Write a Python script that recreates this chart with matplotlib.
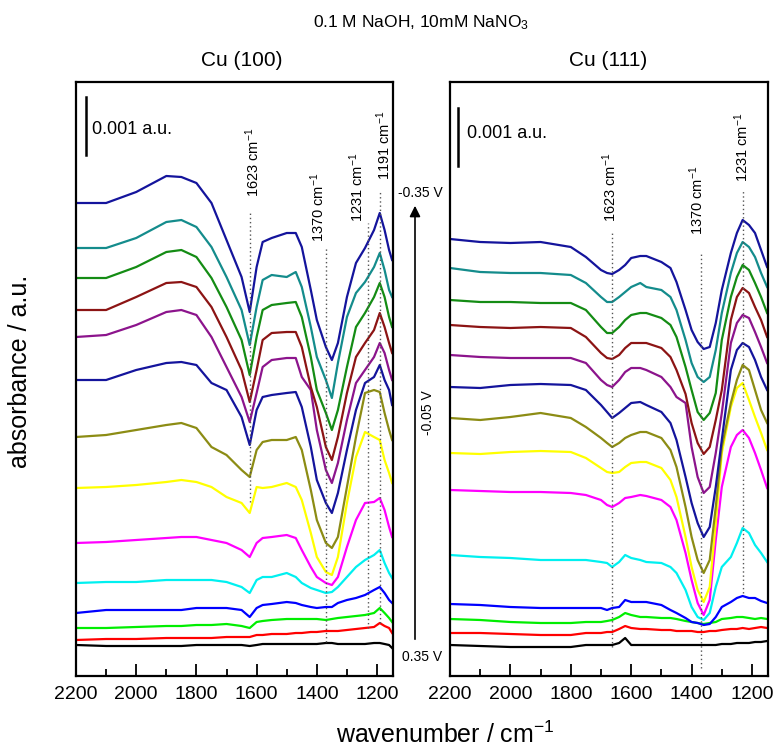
import numpy as np
import matplotlib
matplotlib.use("Agg")
import matplotlib.pyplot as plt
from matplotlib.patches import FancyArrowPatch

plt.rcParams['font.family'] = ['Liberation Sans', 'DejaVu Sans']
plt.rcParams['mathtext.default'] = 'regular'

# ---------------- data ----------------
# Stacked spectra, heights in units where the
# 0.001 a.u. scale bar = 58 units (curves already include their stacking offset)
AU_PER_UNIT = 0.001 / 58.0
SCALE_BAR = 58

colors = ['#000000', '#ff0000', '#00ee00', '#0000ff', '#00f0f0', '#ff00ff',
          '#ffff00', '#8c8c14', '#14149c', '#8c148c', '#8c1414', '#148c14',
          '#148c8c', '#14149c']  # bottom (0.35 V) -> top (-0.35 V)

# Cu(100)
wn_100 = [2200, 2100, 2000, 1900, 1850, 1800, 1750, 1700, 1650, 1623, 1600, 1580,
          1550, 1500, 1470, 1450, 1420, 1400, 1370, 1350, 1330, 1300, 1270, 1240,
          1210, 1191, 1175, 1160, 1150]
cu100_01 = [31, 30, 30, 30, 30, 31, 31, 31, 31, 30, 31, 32, 32, 32, 32, 32, 32, 32, 33, 33, 32, 32, 32, 32, 33, 33, 32, 31, 28]
cu100_02 = [36, 37, 37, 38, 38, 38, 38, 39, 39, 39, 41, 41, 42, 42, 43, 43, 44, 44, 45, 45, 45, 46, 47, 48, 49, 53, 50, 48, 43]
cu100_03 = [48, 48, 49, 50, 50, 51, 51, 52, 50, 48, 54, 55, 56, 57, 57, 57, 57, 57, 56, 57, 58, 59, 60, 61, 63, 68, 63, 58, 54]
cu100_04 = [63, 66, 66, 66, 66, 68, 68, 68, 66, 59, 68, 71, 72, 74, 73, 71, 69, 68, 69, 69, 73, 76, 78, 81, 86, 89, 83, 76, 73]
cu100_05 = [93, 94, 94, 96, 96, 96, 96, 94, 89, 83, 96, 99, 99, 103, 99, 93, 88, 86, 83, 84, 89, 99, 109, 116, 121, 126, 113, 103, 98]
cu100_06 = [133, 134, 136, 138, 139, 139, 136, 133, 126, 119, 133, 138, 139, 141, 138, 126, 109, 99, 93, 91, 99, 129, 156, 173, 174, 178, 166, 149, 139]
cu100_07 = [188, 189, 191, 194, 196, 194, 189, 179, 173, 163, 189, 188, 189, 193, 189, 176, 143, 119, 104, 101, 119, 173, 219, 244, 239, 236, 216, 203, 193]
cu100_08 = [239, 241, 246, 251, 253, 248, 229, 221, 206, 199, 226, 234, 236, 236, 239, 226, 186, 156, 133, 128, 139, 189, 239, 283, 286, 284, 263, 246, 236]
cu100_09 = [296, 296, 306, 313, 314, 311, 293, 286, 259, 231, 266, 279, 281, 283, 284, 269, 229, 196, 173, 163, 183, 226, 266, 293, 299, 311, 296, 286, 271]
cu100_10 = [339, 341, 351, 364, 366, 361, 339, 309, 279, 254, 283, 309, 316, 318, 318, 299, 286, 246, 206, 193, 213, 256, 293, 306, 319, 333, 323, 306, 296]
cu100_11 = [366, 366, 379, 393, 394, 389, 369, 339, 306, 274, 306, 336, 343, 344, 344, 329, 289, 269, 229, 216, 239, 283, 319, 333, 346, 363, 349, 333, 323]
cu100_12 = [398, 398, 409, 424, 426, 419, 398, 369, 336, 301, 339, 366, 371, 373, 374, 359, 319, 286, 263, 246, 266, 309, 349, 363, 379, 393, 379, 359, 349]
cu100_13 = [428, 428, 438, 454, 456, 449, 429, 399, 366, 331, 369, 396, 401, 399, 404, 389, 349, 319, 296, 278, 313, 359, 383, 394, 409, 423, 406, 386, 379]
cu100_14 = [473, 473, 484, 500, 499, 493, 473, 436, 399, 364, 409, 434, 438, 443, 443, 429, 386, 356, 329, 316, 333, 379, 413, 428, 446, 463, 446, 426, 416]

# Cu(111)
wn_111 = [2200, 2100, 2000, 1900, 1800, 1750, 1700, 1680, 1663, 1640, 1620, 1600,
          1570, 1550, 1500, 1470, 1450, 1420, 1400, 1380, 1360, 1340, 1320, 1300,
          1270, 1250, 1231, 1210, 1190, 1170, 1150]
cu111_01 = [31, 30, 29, 29, 29, 31, 31, 31, 31, 33, 38, 31, 31, 31, 31, 31, 31, 31, 31, 31, 31, 31, 31, 32, 32, 33, 33, 33, 34, 34, 35]
cu111_02 = [43, 43, 42, 41, 41, 43, 43, 44, 44, 47, 50, 48, 47, 47, 46, 46, 45, 45, 45, 44, 44, 45, 45, 46, 47, 47, 48, 47, 48, 49, 48]
cu111_03 = [57, 56, 54, 53, 53, 54, 54, 55, 56, 59, 63, 61, 59, 59, 58, 58, 57, 55, 54, 53, 52, 53, 54, 57, 58, 59, 59, 58, 57, 58, 57]
cu111_04 = [72, 71, 69, 68, 68, 68, 68, 66, 68, 69, 76, 74, 74, 74, 71, 66, 63, 58, 54, 53, 51, 52, 59, 69, 74, 78, 80, 78, 78, 75, 73]
cu111_05 = [121, 119, 118, 116, 116, 116, 114, 113, 109, 114, 121, 118, 116, 114, 113, 109, 103, 86, 69, 59, 56, 63, 89, 109, 119, 133, 148, 143, 131, 123, 114]
cu111_06 = [186, 185, 184, 184, 183, 181, 176, 171, 169, 173, 178, 179, 181, 180, 176, 169, 156, 123, 96, 73, 61, 76, 136, 189, 229, 241, 246, 238, 223, 206, 188]
cu111_07 = [223, 222, 224, 225, 224, 218, 208, 204, 203, 204, 209, 213, 214, 214, 208, 196, 179, 139, 109, 86, 74, 89, 153, 223, 269, 288, 293, 276, 259, 243, 226]
cu111_08 = [258, 256, 259, 263, 258, 249, 238, 233, 229, 233, 238, 241, 244, 244, 238, 226, 209, 169, 139, 116, 103, 116, 169, 229, 273, 296, 311, 306, 286, 266, 253]
cu111_09 = [289, 288, 291, 292, 291, 286, 271, 264, 258, 263, 268, 273, 274, 271, 264, 253, 236, 199, 173, 153, 139, 149, 189, 236, 306, 326, 333, 329, 316, 299, 286]
cu111_10 = [321, 319, 318, 318, 318, 313, 296, 291, 289, 296, 304, 308, 308, 306, 299, 289, 279, 273, 229, 199, 183, 189, 223, 263, 333, 353, 361, 358, 344, 329, 313]
cu111_11 = [351, 349, 348, 349, 348, 339, 323, 318, 317, 321, 328, 333, 333, 333, 328, 319, 306, 282, 253, 233, 222, 229, 256, 286, 356, 379, 388, 383, 369, 356, 339]
cu111_12 = [376, 374, 374, 373, 373, 366, 349, 343, 343, 349, 356, 361, 363, 363, 358, 351, 339, 309, 286, 264, 256, 263, 283, 336, 379, 399, 411, 406, 393, 379, 363]
cu111_13 = [408, 404, 403, 403, 401, 393, 379, 374, 374, 379, 384, 389, 393, 389, 386, 379, 366, 336, 313, 299, 294, 299, 326, 363, 403, 423, 434, 429, 419, 403, 389]
cu111_14 = [437, 434, 433, 434, 429, 419, 406, 403, 402, 406, 411, 418, 420, 420, 414, 408, 394, 366, 346, 334, 327, 329, 353, 386, 423, 443, 456, 451, 443, 426, 409]

cu100 = [cu100_01, cu100_02, cu100_03, cu100_04, cu100_05, cu100_06, cu100_07,
         cu100_08, cu100_09, cu100_10, cu100_11, cu100_12, cu100_13, cu100_14]
cu111 = [cu111_01, cu111_02, cu111_03, cu111_04, cu111_05, cu111_06, cu111_07,
         cu111_08, cu111_09, cu111_10, cu111_11, cu111_12, cu111_13, cu111_14]

# peak markers: (line position, line bottom, line top, label text, label x, label bottom)
peaks_100 = [(1623, 174, 464, '1623', 1612, 479),
             (1370, 34, 428, '1370', 1396, 434),
             (1231, 48, 453, '1231', 1266, 454),
             (1191, 53, 486, '1191', 1177, 496)]
peaks_111 = [(1663, 29, 443, '1623', 1670, 454),
             (1370, 8, 423, '1370', 1382, 441),
             (1231, 83, 486, '1231', 1233, 494)]

# ---------------- figure ----------------
W, H = 776, 747
fig = plt.figure(figsize=(W / 100, H / 100), dpi=100)

def fx(px):
    return px / W

def fy(py):
    return 1 - py / H

ax1 = fig.add_axes([fx(76), fy(676), (393 - 76) / W, (676 - 82) / H])
ax2 = fig.add_axes([fx(450), fy(676), (768 - 450) / W, (676 - 82) / H])

def draw(ax, wn, spectra, peaks, bar_x, bar_top, text_x, text_y):
    for vals, c in zip(spectra, colors):
        ax.plot(wn, np.array(vals) * AU_PER_UNIT, color=c, lw=1.6,
                solid_joinstyle='round')
    for pos, y0, y1, lab, lx, ly in peaks:
        ax.plot([pos, pos], [y0 * AU_PER_UNIT, y1 * AU_PER_UNIT], color='#555555',
                lw=1.0, ls=(0, (1, 2)))
        ax.text(lx, ly * AU_PER_UNIT, lab + ' cm$^{-1}$', rotation=90,
                ha='center', va='bottom', fontsize=10.5)
    ax.plot([bar_x, bar_x], [bar_top * AU_PER_UNIT, (bar_top - SCALE_BAR) * AU_PER_UNIT],
            color='black', lw=1.8)
    ax.text(text_x, text_y * AU_PER_UNIT, '0.001 a.u.', ha='left', va='center',
            fontsize=13)
    ax.set_xlim(2200, 1147)
    ax.set_ylim(0, 594 * AU_PER_UNIT)
    ax.set_xticks([2200, 2000, 1800, 1600, 1400, 1200])
    ax.set_xticks([2100, 1900, 1700, 1500, 1300], minor=True)
    ax.tick_params(axis='x', which='both', direction='in', top=False,
                   labelsize=14, pad=7, width=1.3)
    ax.tick_params(axis='x', which='major', length=9)
    ax.tick_params(axis='x', which='minor', length=5)
    ax.set_yticks([])
    for s in ax.spines.values():
        s.set_linewidth(1.6)

draw(ax1, wn_100, cu100, peaks_100, 2167, 579, 2147, 546)
draw(ax2, wn_111, cu111, peaks_111, 2174, 568, 2144, 543)

# titles and labels
fig.text(fx(421), fy(23), '0.1 M NaOH, 10mM NaNO$_3$', ha='center', va='center', fontsize=12.5)
fig.text(fx(242), fy(60), 'Cu (100)', ha='center', va='center', fontsize=15)
fig.text(fx(608), fy(60), 'Cu (111)', ha='center', va='center', fontsize=15)
fig.text(fx(20), fy(371), 'absorbance / a.u.', rotation=90, ha='center', va='center', fontsize=18)
fig.text(fx(445), fy(735), 'wavenumber / cm$^{-1}$', ha='center', va='center', fontsize=18)

# potential arrow
arrow = FancyArrowPatch((fx(415), fy(642)), (fx(415), fy(203)), transform=fig.transFigure,
                        arrowstyle='-|>', mutation_scale=16, color='black', lw=1.2)
fig.add_artist(arrow)
fig.text(fx(420), fy(193), '-0.35 V', ha='center', va='center', fontsize=10)
fig.text(fx(422), fy(657), '0.35 V', ha='center', va='center', fontsize=10)
fig.text(fx(428), fy(413), '-0.05 V', rotation=90, ha='center', va='center', fontsize=10)

fig.savefig('out.png', dpi=100)
